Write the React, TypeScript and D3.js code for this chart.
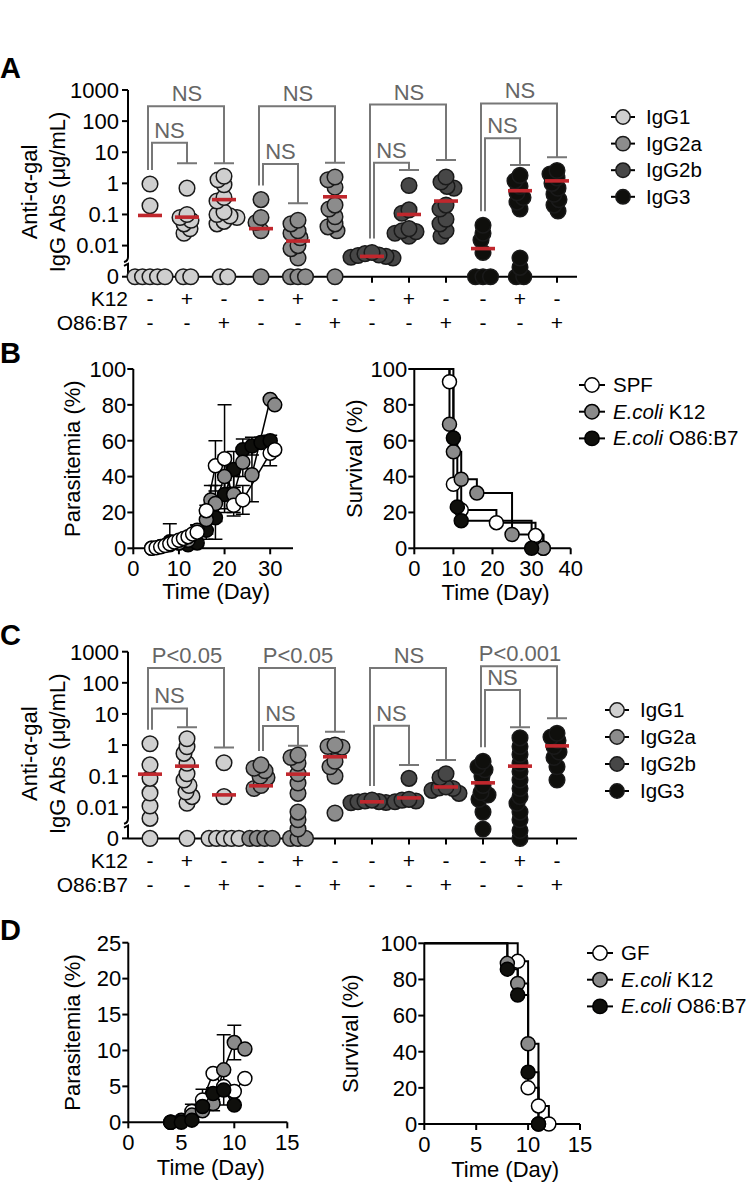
import React from 'react';
import * as d3 from 'd3';

const FONT = "'Liberation Sans', Arial, Helvetica, sans-serif";
const FS = 22;

// ---------------- Panels A & C : anti-alpha-gal IgG ----------------
const isotypes = ['IgG1', 'IgG2a', 'IgG2b', 'IgG3'];
const isoFills = ['#cfcfcf', '#8c8c8c', '#474747', '#0f0f0c'];
const k12Signs = ['-', '+', '-'];
const o86Signs = ['-', '-', '+'];
const logTickValues = [1000, 100, 10, 1, 0.1, 0.01];
const logTickLabels = ['1000', '100', '10', '1', '0.1', '0.01'];

// 12 groups: 4 isotypes x (none, K12, O86:B7); 0 = undetectable
const aValues: number[][] = [
  [0.95, 0.19, 0, 0, 0, 0, 0],
  [0.7, 0.1, 0.08, 0.065, 0.05, 0.035, 0.025, 0, 0],
  [1.7, 1.3, 0.9, 0.35, 0.27, 0.12, 0.1, 0.09, 0.08, 0.06, 0.05, 0, 0],
  [0.3, 0.08, 0.055, 0.03, 0],
  [0.065, 0.05, 0.03, 0.025, 0.018, 0.01, 0.008, 0.004, 0, 0, 0],
  [1.6, 1.3, 0.75, 0.2, 0.15, 0.085, 0.05, 0.04, 0.03, 0],
  [0.006, 0.0055, 0.005, 0.0048, 0.0045, 0.0042, 0.004],
  [0.85, 0.14, 0.11, 0.035, 0.03, 0.028, 0.025, 0.02],
  [1.6, 1.1, 0.8, 0.7, 0.2, 0.15, 0.07, 0.05, 0.03, 0.02],
  [0.045, 0.025, 0.015, 0.006, 0, 0, 0],
  [1.8, 1.2, 0.8, 0.5, 0.35, 0.25, 0.15, 0.004, 0.002, 0, 0],
  [2.6, 2.0, 1.5, 1.0, 0.7, 0.45, 0.3, 0.2, 0.13],
];
const aMeans = [0.093, 0.082, 0.3, 0.035, 0.014, 0.37, 0.0045, 0.1, 0.27, 0.008, 0.58, 1.2];
const aOuterTop = [300, 300, 340, 370];
const aOuterCap = [4.4, 4.6, 5.6, 6.9];
const aInnerTop = [20, 4.2, 4.6, 28];
const aInnerCap = [4.4, 0.23, 2.7, 3.9];
const aOuterLabels = ['NS', 'NS', 'NS', 'NS'];
const aInnerLabels = ['NS', 'NS', 'NS', 'NS'];

const cValues: number[][] = [
  [1.1, 0.23, 0.085, 0.029, 0.011, 0.0044, 0],
  [1.6, 0.88, 0.54, 0.26, 0.12, 0.075, 0.05, 0.031, 0.022, 0.0135, 0],
  [0.27, 0.022, 0, 0, 0, 0, 0],
  [0.23, 0.18, 0.15, 0.1, 0.09, 0.05, 0.04, 0, 0, 0, 0],
  [0.48, 0.4, 0.26, 0.12, 0.06, 0.028, 0.007, 0.004, 0.002, 0, 0, 0],
  [1.0, 0.9, 0.85, 0.3, 0.2, 0.1, 0.0065],
  [0.017, 0.016, 0.0152, 0.015, 0.0142, 0.014],
  [0.085, 0.018, 0.017, 0.016, 0.015],
  [0.12, 0.09, 0.045, 0.042, 0.04, 0.035, 0.028],
  [0.3, 0.2, 0.16, 0.1, 0.05, 0.03, 0.025, 0.018, 0.007, 0.002],
  [1.7, 0.9, 0.5, 0.26, 0.14, 0.075, 0.04, 0.022, 0.0135, 0.007, 0.004, 0.0018, 0],
  [2.4, 1.8, 1.4, 0.9, 0.6, 0.4, 0.2, 0.075],
];
const cMeans = [0.116, 0.21, 0.025, 0.049, 0.116, 0.42, 0.015, 0.02, 0.045, 0.061, 0.21, 0.94];
const cOuterTop = [300, 300, 300, 340];
const cOuterCap = [0.84, 2.7, 0.33, 7.2];
const cInnerTop = [15, 4.1, 4.2, 59];
const cInnerCap = [3.7, 0.95, 0.23, 3.7];
const cOuterLabels = ['P<0.05', 'P<0.05', 'NS', 'P<0.001'];
const cInnerLabels = ['NS', 'NS', 'NS', 'NS'];

// ---------------- Panel B : SPF vs E.coli colonised ----------------
const bSeriesNames = ['SPF', 'K12', 'O86:B7'];
const bParaDays = [
  [4, 5, 6, 7, 8, 9, 10, 11, 12, 13, 14, 16, 18, 20, 22, 24, 30, 31],
  [8, 10, 12, 14, 16, 17, 18, 20, 22, 24, 26, 30, 31],
  [4, 6, 8, 10, 12, 14, 16, 18, 20, 22, 24, 26, 28, 30],
];
const bParaMean = [
  [0, 0.3, 0.8, 1.5, 2.5, 3.5, 4.5, 5.5, 6.5, 8, 9, 21, 46, 50, 24, 27, 53, 55],
  [2, 3, 4.5, 10, 16, 27, 25, 40, 30, 48, 41, 83, 80],
  [0, 1, 3.7, 3, 2, 3, 10, 17, 30, 44, 55, 57, 59, 60],
];
const bParaErr = [
  [0, 0, 0, 0, 0, 0, 0, 0, 0, 0, 0, 0, 14, 30, 6, 8, 7, 0],
  [0, 0, 0, 3, 8, 8, 10, 12, 10, 8, 15, 0, 0],
  [0, 0, 10, 0, 0, 10, 5, 12, 8, 10, 6, 5, 3, 3],
];
const bSurvDays = [
  [9, 10, 12, 21, 31, 33],
  [9, 10, 12, 16, 25, 33],
  [10, 11, 12, 30],
];
const bSurv = [
  [92.9, 35.7, 21.4, 14.3, 7.1, 0],
  [69.2, 53.8, 38.5, 30.8, 7.7, 0],
  [61.5, 23.1, 15.4, 0],
];

// ---------------- Panel D : germ-free vs mono-colonised ----------------
const dSeriesNames = ['GF', 'K12', 'O86:B7'];
const dParaDays = [
  [4, 5, 6, 7, 8, 9, 10, 11],
  [4, 5, 6, 7, 8, 9, 10, 11],
  [4, 5, 6, 7, 8, 9, 10],
];
const dParaMean = [
  [0, 0.3, 1.5, 3.1, 6.8, 5.0, 4.3, 6.1],
  [0, 0.2, 1.0, 1.6, 2.6, 7.3, 11.1, 10.2],
  [0, 0, 0.3, 2.2, 4.0, 4.5, 2.4],
];
const dParaErr = [
  [0, 0, 1, 1.5, 0, 0, 0, 0],
  [0, 0, 0, 0, 1, 4.9, 2.4, 0],
  [0, 0, 0, 0, 0.8, 0, 0],
];
const dSurvDays = [
  [9, 10, 11, 12],
  [8, 9, 10, 11],
  [8, 9, 10, 11],
];
const dSurv = [
  [90, 20, 10, 0],
  [88.9, 77.8, 44.4, 0],
  [85.7, 71.4, 28.6, 0],
];

const seriesFills = ['#ffffff', '#8a8a8a', '#0f0f0c'];

// ---------- helpers ----------
function swarmOffsets(vals: number[], ypos: (v: number) => number, D: number, dupStep: number): number[] {
  const out = new Array(vals.length).fill(0);
  const order = vals.map((_, i) => i).sort((a, b) => ypos(vals[a]) - ypos(vals[b]));
  const counts = new Map<number, number>();
  vals.forEach(v => counts.set(v, (counts.get(v) || 0) + 1));
  const seen = new Map<number, number>();
  const placed: { x: number; y: number }[] = [];
  for (const i of order) {
    const v = vals[i];
    const y = ypos(v);
    const c = counts.get(v)!;
    let x = 0;
    if (c > 1) {
      const k = seen.get(v) || 0;
      seen.set(v, k + 1);
      x = (k - (c - 1) / 2) * dupStep;
    } else {
      let found = false;
      for (let s = 0; s <= 40 && !found; s++) {
        const cands = s === 0 ? [0] : [-s, s];
        for (const cx of cands) {
          if (placed.every(p => Math.hypot(p.x - cx, p.y - y) >= D)) {
            x = cx;
            found = true;
            break;
          }
        }
      }
    }
    placed.push({ x, y });
    out[i] = x;
  }
  return out;
}

type IgGProps = {
  dy: number;
  values: number[][];
  means: number[];
  outerTop: number[];
  outerCap: number[];
  innerTop: number[];
  innerCap: number[];
  outerLabels: string[];
  innerLabels: string[];
  legendX: number;
  legendY: number;
  legendStep: number;
};

function IgGPanel(p: IgGProps) {
  const axisX = 128;
  const y = d3.scaleLog().domain([0.001, 1000]).range([276.7 + p.dy, 90 + p.dy]);
  const yv = (v: number) => y(v <= 0 ? 0.001 : v);
  const x = d3.scalePoint<number>().domain(d3.range(12)).range([150, 557]);
  const y0 = yv(0);
  const grey = '#777777';
  const els: React.ReactNode[] = [];

  els.push(
    <path key="yax" d={`M${axisX},${y(1000)}V${y(0.0043)}Q${axisX},${y(0.0043) + 4} ${axisX - 4},${y(0.0043) + 5}`} fill="none" stroke="#000" strokeWidth={2} />,
    <path key="yax2" d={`M${axisX - 4},${y(0.0024) + 1}L${axisX},${y(0.0024) - 1}V${y0}`} fill="none" stroke="#000" strokeWidth={2} />,
    <line key="xax" x1={axisX} x2={577} y1={y0} y2={y0} stroke="#000" strokeWidth={2} />
  );
  logTickValues.forEach((t, i) => {
    els.push(
      <line key={'yt' + i} x1={axisX - 6} x2={axisX} y1={y(t)} y2={y(t)} stroke="#000" strokeWidth={2} />,
      <text key={'yl' + i} x={axisX - 9} y={y(t) + 7.8} textAnchor="end" fontSize={FS}>{logTickLabels[i]}</text>
    );
  });
  els.push(
    <line key="yt0" x1={axisX - 6} x2={axisX} y1={y0} y2={y0} stroke="#000" strokeWidth={2} />,
    <text key="yl0" x={axisX - 9} y={y0 + 7.5} textAnchor="end" fontSize={FS}>0</text>
  );
  d3.range(12).forEach(g => {
    els.push(<line key={'xt' + g} x1={x(g)!} x2={x(g)!} y1={y0} y2={y0 + 6} stroke="#000" strokeWidth={2} />);
    els.push(
      <text key={'k' + g} x={x(g)!} y={306 + p.dy} textAnchor="middle" fontSize={21}>{k12Signs[g % 3]}</text>,
      <text key={'o' + g} x={x(g)!} y={330 + p.dy} textAnchor="middle" fontSize={21}>{o86Signs[g % 3]}</text>
    );
  });
  els.push(
    <text key="k12" x={axisX} y={306 + p.dy} textAnchor="end" fontSize={21}>K12</text>,
    <text key="o86" x={axisX} y={330 + p.dy} textAnchor="end" fontSize={21}>O86:B7</text>
  );
  const cy = 192 + p.dy;
  els.push(
    <text key="yt1" transform={`translate(37,${cy}) rotate(-90)`} textAnchor="middle" fontSize={FS}>Anti-α-gal</text>,
    <text key="yt2" transform={`translate(65,${cy}) rotate(-90)`} textAnchor="middle" fontSize={FS}>IgG Abs (μg/mL)</text>
  );

  isotypes.forEach((_, k) => {
    const g0 = 3 * k;
    const xl = x(g0)!, xm = x(g0 + 1)!, xr = x(g0 + 2)!;
    const legBottom = yv(d3.max(p.values[g0])!) - 14;
    const oT = y(p.outerTop[k]), oC = y(p.outerCap[k]);
    const iT = y(p.innerTop[k]), iC = y(p.innerCap[k]);
    els.push(
      <path key={'ob' + k} d={`M${xl - 2},${legBottom}V${oT}H${xr}V${oC}M${xr - 10},${oC}H${xr + 10}`} fill="none" stroke={grey} strokeWidth={2} />,
      <path key={'ib' + k} d={`M${xl + 2},${legBottom}V${iT}H${xm}V${iC}M${xm - 10},${iC}H${xm + 10}`} fill="none" stroke={grey} strokeWidth={2} />,
      <text key={'ol' + k} x={(xl + xr) / 2} y={oT - 5} textAnchor="middle" fontSize={FS} fill="#666">{p.outerLabels[k]}</text>,
      <text key={'il' + k} x={(xl + 2 + xm) / 2} y={iT - 5} textAnchor="middle" fontSize={FS} fill="#666">{p.innerLabels[k]}</text>
    );
  });

  p.values.forEach((vals, g) => {
    const offs = swarmOffsets(vals, yv, 7, 7.5);
    const fill = isoFills[Math.floor(g / 3)];
    const idx = vals.map((_, i) => i).sort((a, b) => yv(vals[b]) - yv(vals[a]));
    idx.forEach(i => {
      els.push(
        <circle key={`d${g}-${i}`} cx={x(g)! + offs[i]} cy={yv(vals[i])} r={7.8} fill={fill} stroke="#1a1a1a" strokeWidth={1.5} />
      );
    });
  });
  p.means.forEach((m, g) => {
    els.push(<line key={'m' + g} x1={x(g)! - 12} x2={x(g)! + 12} y1={yv(m)} y2={yv(m)} stroke="#c0272d" strokeWidth={3.6} />);
  });

  isotypes.forEach((name, k) => {
    const ly = p.legendY + k * p.legendStep;
    els.push(
      <line key={'lgl' + k} x1={p.legendX - 12} x2={p.legendX + 12} y1={ly} y2={ly} stroke="#000" strokeWidth={2} />,
      <circle key={'lgc' + k} cx={p.legendX} cy={ly} r={7.2} fill={isoFills[k]} stroke="#1a1a1a" strokeWidth={1.5} />,
      <text key={'lgt' + k} x={p.legendX + 23} y={ly + 7} fontSize={20.5}>{name}</text>
    );
  });
  return <g>{els}</g>;
}

type AxisProps = {
  xs: d3.ScaleLinear<number, number>;
  ys: d3.ScaleLinear<number, number>;
  xTicks: number[];
  yTicks: number[];
  yTitle: string;
  yTitleX: number;
  xTitleY: number;
};

function Axes(p: AxisProps) {
  const [x0, xEnd] = p.xs.range();
  const [y0, yTop] = p.ys.range();
  return (
    <g>
      <line x1={x0} x2={x0} y1={yTop} y2={y0} stroke="#000" strokeWidth={2} />
      <line x1={x0} x2={xEnd} y1={y0} y2={y0} stroke="#000" strokeWidth={2} />
      {p.yTicks.map(t => (
        <g key={'y' + t}>
          <line x1={x0 - 6} x2={x0} y1={p.ys(t)} y2={p.ys(t)} stroke="#000" strokeWidth={2} />
          <text x={x0 - 7} y={p.ys(t) + 7.8} textAnchor="end" fontSize={FS}>{t}</text>
        </g>
      ))}
      {p.xTicks.map(t => (
        <g key={'x' + t}>
          <line x1={p.xs(t)} x2={p.xs(t)} y1={y0} y2={y0 + 6} stroke="#000" strokeWidth={2} />
          <text x={p.xs(t)} y={y0 + 28} textAnchor="middle" fontSize={FS}>{t}</text>
        </g>
      ))}
      <text transform={`translate(${p.yTitleX},${(yTop + y0) / 2}) rotate(-90)`} textAnchor="middle" fontSize={FS}>{p.yTitle}</text>
      <text x={(x0 + xEnd) / 2 + 3} y={p.xTitleY} textAnchor="middle" fontSize={FS}>Time (Day)</text>
    </g>
  );
}

function ParaSeries(props: { xs: d3.ScaleLinear<number, number>; ys: d3.ScaleLinear<number, number>; days: number[][]; mean: number[][]; err: number[][]; order: number[]; r: number }) {
  const { xs, ys } = props;
  const line = d3.line<[number, number]>().x(d => xs(d[0])).y(d => ys(d[1]));
  const els: React.ReactNode[] = [];
  props.order.forEach(s => {
    const pts = props.days[s].map((d, i) => [d, props.mean[s][i]] as [number, number]);
    els.push(<path key={'ln' + s} d={line(pts)!} fill="none" stroke="#000" strokeWidth={1.5} />);
    props.days[s].forEach((d, i) => {
      const e = props.err[s][i];
      if (e > 0) {
        const m = props.mean[s][i];
        const hi = ys(m + e), lo = ys(Math.max(0, m - e));
        const cx = xs(d);
        els.push(
          <path key={`e${s}-${i}`} d={`M${cx},${lo}V${hi}M${cx - 7},${hi}H${cx + 7}M${cx - 7},${lo}H${cx + 7}`} fill="none" stroke="#000" strokeWidth={1.5} />
        );
      }
    });
  });
  props.order.forEach(s => {
    props.days[s].forEach((d, i) => {
      els.push(<circle key={`c${s}-${i}`} cx={xs(d)} cy={ys(props.mean[s][i])} r={props.r} fill={seriesFills[s]} stroke="#000" strokeWidth={1.5} />);
    });
  });
  return <g>{els}</g>;
}

function SurvSeries(props: { xs: d3.ScaleLinear<number, number>; ys: d3.ScaleLinear<number, number>; days: number[][]; surv: number[][]; r: number }) {
  const { xs, ys } = props;
  const els: React.ReactNode[] = [];
  props.days.forEach((ds, s) => {
    let d = `M${xs(0)},${ys(100)}`;
    ds.forEach((t, i) => {
      d += `H${xs(t)}V${ys(props.surv[s][i])}`;
    });
    els.push(<path key={'s' + s} d={d} fill="none" stroke="#000" strokeWidth={2} />);
  });
  props.days.forEach((ds, s) => {
    ds.forEach((t, i) => {
      els.push(<circle key={`sc${s}-${i}`} cx={xs(t)} cy={ys(props.surv[s][i])} r={props.r} fill={seriesFills[s]} stroke="#000" strokeWidth={1.5} />);
    });
  });
  return <g>{els}</g>;
}

function Legend3(props: { x: number; y: number; step: number; names: string[] }) {
  return (
    <g>
      {props.names.map((n, k) => {
        const ly = props.y + k * props.step;
        return (
          <g key={n}>
            <line x1={props.x - 13} x2={props.x + 13} y1={ly} y2={ly} stroke="#000" strokeWidth={2} />
            <circle cx={props.x} cy={ly} r={7.2} fill={seriesFills[k]} stroke="#000" strokeWidth={1.5} />
            <text x={props.x + 21} y={ly + 7} fontSize={20.5}>
              {k === 0 ? n : (<><tspan fontStyle="italic">E.coli</tspan> {n}</>)}
            </text>
          </g>
        );
      })}
    </g>
  );
}

export default function App() {
  const bParaX = d3.scaleLinear().domain([0, 35]).range([133.3, 293]);
  const bParaY = d3.scaleLinear().domain([0, 100]).range([548.3, 369]);
  const bSurvX = d3.scaleLinear().domain([0, 40]).range([414.3, 570.7]);
  const bSurvY = d3.scaleLinear().domain([0, 100]).range([548.3, 369]);
  const dParaX = d3.scaleLinear().domain([0, 15]).range([128.3, 287.3]);
  const dParaY = d3.scaleLinear().domain([0, 25]).range([1122.3, 942.7]);
  const dSurvX = d3.scaleLinear().domain([0, 15]).range([424.3, 580]);
  const dSurvY = d3.scaleLinear().domain([0, 100]).range([1124, 943.3]);

  return (
    <svg width={746} height={1184} viewBox="0 0 746 1184" style={{ position: 'absolute', left: 0, top: 0, background: '#fff' }} fontFamily={FONT}>
      <rect x={0} y={0} width={746} height={1184} fill="#fff" />
      <text x={0} y={78} fontSize={29} fontWeight="bold">A</text>
      <text x={0} y={363} fontSize={29} fontWeight="bold">B</text>
      <text x={0} y={645} fontSize={29} fontWeight="bold">C</text>
      <text x={0} y={940} fontSize={29} fontWeight="bold">D</text>

      <IgGPanel dy={0} values={aValues} means={aMeans} outerTop={aOuterTop} outerCap={aOuterCap} innerTop={aInnerTop} innerCap={aInnerCap}
        outerLabels={aOuterLabels} innerLabels={aInnerLabels} legendX={623} legendY={117} legendStep={26.6} />
      <IgGPanel dy={561.7} values={cValues} means={cMeans} outerTop={cOuterTop} outerCap={cOuterCap} innerTop={cInnerTop} innerCap={cInnerCap}
        outerLabels={cOuterLabels} innerLabels={cInnerLabels} legendX={617} legendY={710} legendStep={27} />

      <Axes xs={bParaX} ys={bParaY} xTicks={[0, 10, 20, 30]} yTicks={[0, 20, 40, 60, 80, 100]} yTitle="Parasitemia (%)" yTitleX={80} xTitleY={599} />
      <ParaSeries xs={bParaX} ys={bParaY} days={bParaDays} mean={bParaMean} err={bParaErr} order={[2, 1, 0]} r={7} />
      <Axes xs={bSurvX} ys={bSurvY} xTicks={[0, 10, 20, 30, 40]} yTicks={[0, 20, 40, 60, 80, 100]} yTitle="Survival (%)" yTitleX={362} xTitleY={600} />
      <SurvSeries xs={bSurvX} ys={bSurvY} days={bSurvDays} surv={bSurv} r={7} />
      <Legend3 x={592} y={385} step={26.7} names={bSeriesNames} />

      <Axes xs={dParaX} ys={dParaY} xTicks={[0, 5, 10, 15]} yTicks={[0, 5, 10, 15, 20, 25]} yTitle="Parasitemia (%)" yTitleX={80} xTitleY={1175} />
      <ParaSeries xs={dParaX} ys={dParaY} days={dParaDays} mean={dParaMean} err={dParaErr} order={[0, 1, 2]} r={7} />
      <Axes xs={dSurvX} ys={dSurvY} xTicks={[0, 5, 10, 15]} yTicks={[0, 20, 40, 60, 80, 100]} yTitle="Survival (%)" yTitleX={358} xTitleY={1177} />
      <SurvSeries xs={dSurvX} ys={dSurvY} days={dSurvDays} surv={dSurv} r={7} />
      <Legend3 x={600} y={953} step={26.7} names={dSeriesNames} />
    </svg>
  );
}
